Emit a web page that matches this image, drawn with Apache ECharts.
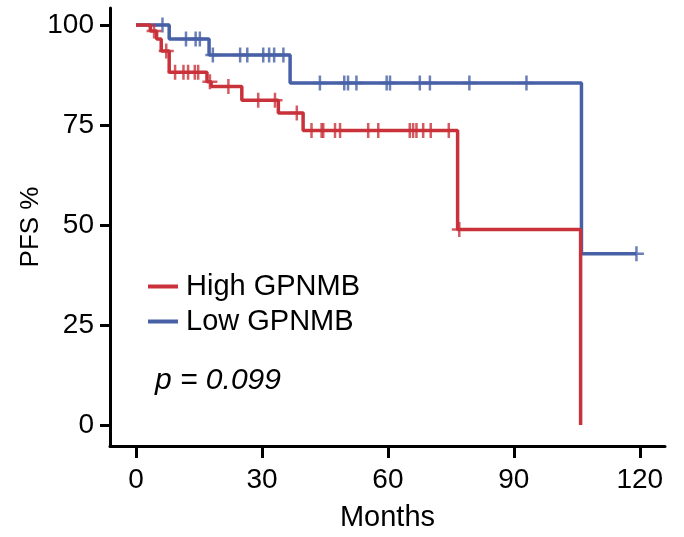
<!DOCTYPE html>
<html>
<head>
<meta charset="utf-8">
<script src="https://cdn.jsdelivr.net/npm/echarts@6/dist/echarts.min.js"></script>
<style>
  html, body { margin: 0; padding: 0; background: #fff; }
  #chart { width: 684px; height: 537px; }
</style>
</head>
<body>
<div id="chart"></div>
<script>
// Kaplan-Meier steps (months, PFS %), last point = end of follow-up
const highTimes = [0, 3.4, 4.9, 6.0, 7.9, 16.9, 17.9, 25.2, 33.9, 39.8, 76.6, 105.9]
const highSurv = [100, 98.5, 96.5, 93.5, 88.2, 85.8, 84.6, 81.2, 78.0, 73.6, 48.9, 0]
const highCensor = [4.3, 7.2, 9.3, 11.3, 12.4, 14.0, 14.8, 17.6, 22.0, 29.1, 33.1, 38.3,
  41.8, 44.2, 44.6, 47.4, 48.6, 55.3, 57.7, 65.2, 66.0, 66.8, 68.4, 70.2, 74.5, 77.0]

const lowTimes = [0, 7.9, 17.4, 36.7, 106.1, 119.2]
const lowSurv = [100, 96.5, 92.5, 85.5, 42.8, 42.8]
const lowCensor = [6.3, 11.9, 14.2, 15.2, 18.3, 24.8, 26.5, 30.3, 31.7, 32.9, 35.1,
  43.8, 49.6, 50.5, 52.5, 59.7, 60.5, 67.6, 70.0, 79.4, 93.0, 119.2]

const xTicks = [0, 30, 60, 90, 120]
const yTicks = [0, 25, 50, 75, 100]

const names = ['High GPNMB', 'Low GPNMB']
const colors = ['#c9323b', '#4760a6']
const font = '"Liberation Sans", Arial, Helvetica, sans-serif'
const plus = 'path://M6,0h2.4v6h6v2.4h-6v6h-2.4v-6h-6v-2.4h6z'

function survAt(times, surv, t) {
  let s = surv[0]
  for (let i = 0; i < times.length; i++) {
    if (times[i] <= t) s = surv[i]
  }
  return s
}

function steps(times, surv) {
  return times.map((t, i) => [t, surv[i]])
}

function censors(times, surv, list) {
  return list.map(t => [t, survAt(times, surv, t)])
}

const chart = echarts.init(document.getElementById('chart'))

const axisCommon = {
  type: 'value',
  splitLine: {show: false},
  nameMoveOverlap: false,
  axisLine: {show: true, onZero: false, lineStyle: {color: '#000', width: 3}}
}

chart.setOption({
  backgroundColor: '#fff',
  animation: false,
  grid: {left: 110, right: 19, top: 8, bottom: 91},
  legend: {
    data: names,
    orient: 'vertical',
    left: 143,
    top: 266,
    icon: 'rect',
    itemWidth: 30,
    itemHeight: 4,
    itemGap: 4,
    selectedMode: false,
    textStyle: {color: '#000', fontSize: 29, fontFamily: font, lineHeight: 31, padding: [0, 0, 0, 3]}
  },
  graphic: [{
    type: 'text',
    left: 155,
    top: 366,
    style: {text: 'p = 0.099', fill: '#000', fontSize: 30, fontStyle: 'italic', fontFamily: font}
  }],
  xAxis: Object.assign({}, axisCommon, {
    min: -6.2,
    max: 126,
    name: 'Months',
    nameLocation: 'middle',
    nameGap: 57,
    nameTextStyle: {color: '#000', fontSize: 29, fontFamily: font},
    axisTick: {customValues: xTicks, length: 12, lineStyle: {color: '#000', width: 3}},
    axisLabel: {customValues: xTicks, color: '#000', fontSize: 28, fontFamily: font, margin: 20}
  }),
  yAxis: Object.assign({}, axisCommon, {
    min: -5.25,
    max: 104.25,
    name: 'PFS %',
    nameLocation: 'middle',
    nameGap: 66,
    nameTextStyle: {color: '#000', fontSize: 26, fontFamily: font},
    axisTick: {customValues: yTicks, length: 10, lineStyle: {color: '#000', width: 3}},
    axisLabel: {customValues: yTicks, color: '#000', fontSize: 28, fontFamily: font, margin: 16}
  }),
  series: [
    {
      name: names[0], type: 'line', step: 'end', showSymbol: false, z: 3,
      lineStyle: {color: colors[0], width: 3.5}, itemStyle: {color: colors[0]},
      data: steps(highTimes, highSurv)
    },
    {
      name: names[1], type: 'line', step: 'end', showSymbol: false, z: 2,
      lineStyle: {color: colors[1], width: 3.5}, itemStyle: {color: colors[1]},
      data: steps(lowTimes, lowSurv)
    },
    {
      name: names[0], type: 'scatter', symbol: plus, symbolSize: 15, z: 4,
      itemStyle: {color: colors[0]},
      data: censors(highTimes, highSurv, highCensor)
    },
    {
      name: names[1], type: 'scatter', symbol: plus, symbolSize: 15, z: 3,
      itemStyle: {color: colors[1]},
      data: censors(lowTimes, lowSurv, lowCensor)
    }
  ]
})
</script>
</body>
</html>
